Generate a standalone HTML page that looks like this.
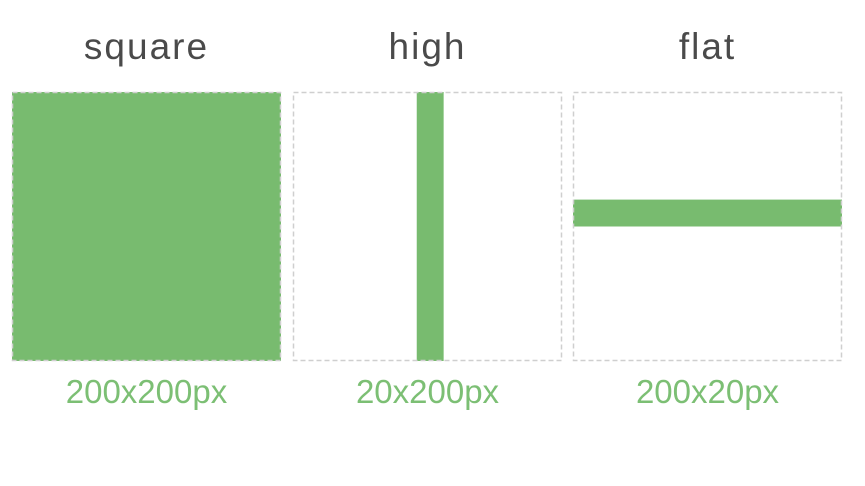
<!DOCTYPE html>
<html><head><meta charset="utf-8"><style>
html,body{margin:0;padding:0;background:#fff;width:865px;height:486px;overflow:hidden}
svg{display:block}
</style></head><body>
<svg width="865" height="486">
<g id="g"></g>
</svg>
<script>
const titles = ["square", "high", "flat"];
const labels = ["200x200px", "20x200px", "200x20px"];
const widthsPx = [200, 20, 200];
const heightsPx = [200, 200, 20];
const offsetXPx = [0, 92, 0];
const offsetYPx = [0, 0, 80];
const NS = "http://www.w3.org/2000/svg";
const g = document.getElementById("g");
const boxX = [12, 293, 573], boxY = 92, boxS = 269, scale = boxS / 200;
function mk(t, a) { const e = document.createElementNS(NS, t); for (const k in a) e.setAttribute(k, a[k]); g.appendChild(e); return e; }
titles.forEach((t, i) => {
  const cx = boxX[i] + boxS / 2;
  const tt = mk("text", {x: cx, y: 59, "text-anchor": "middle", "font-family": "Liberation Sans, sans-serif", "font-size": 37, fill: "#4a4a4a", "letter-spacing": "2"});
  tt.textContent = t;
  
  
  const w = widthsPx[i] * scale, h = heightsPx[i] * scale;
  const r = mk("rect", {x: boxX[i] + offsetXPx[i] * scale, y: boxY + offsetYPx[i] * scale, width: w, height: h, fill: "#78bb6f"});
  
  
  const b = mk("rect", {x: boxX[i] + 0.5, y: boxY + 0.5, width: boxS - 1, height: boxS - 1, fill: "none", stroke: "#cfcfcf", "stroke-width": 1.5, "stroke-dasharray": "5 3"});
  
  
  const l = mk("text", {x: cx, y: 403, "text-anchor": "middle", "font-family": "Liberation Sans, sans-serif", "font-size": 33, fill: "#7cbf74"});
  l.textContent = labels[i];
  
  
});
</script>
</body></html>
